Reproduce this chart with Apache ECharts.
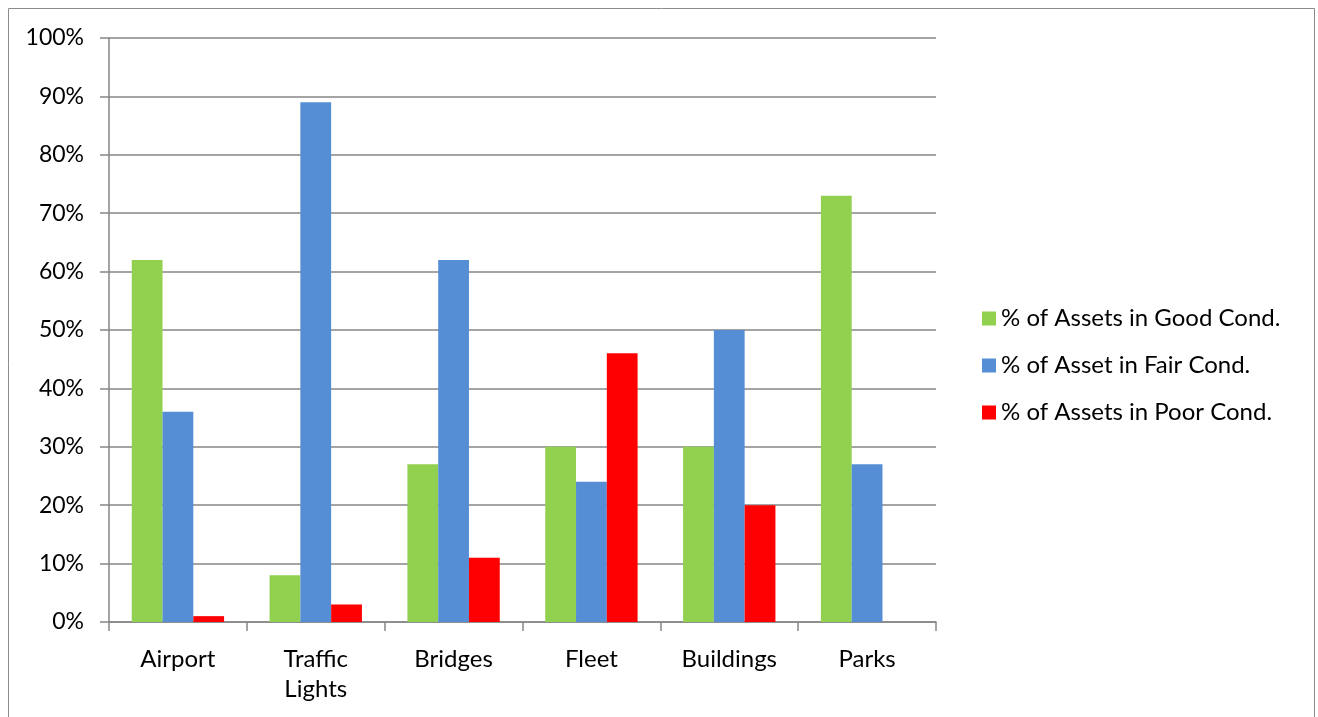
<!DOCTYPE html>
<html>
<head>
<meta charset="utf-8">
<script src="https://cdn.jsdelivr.net/npm/echarts@6/dist/echarts.min.js"></script>
<style>
html,body{margin:0;padding:0;background:#fff;}
#chart{width:1318px;height:717px;}
</style>
</head>
<body>
<div id="chart"></div>
<script>
var categories = ['Airport', 'Traffic\nLights', 'Bridges', 'Fleet', 'Buildings', 'Parks'];
var seriesNames = ['% of Assets in Good Cond.', '% of Asset in Fair Cond.', '% of Assets in Poor Cond.'];
var goodValues = [62, 8, 27, 30, 30, 73];
var fairValues = [36, 89, 62, 24, 50, 27];
var poorValues = [1, 3, 11, 46, 20, 0];
var yTicks = [0, 100, 10];

var FONT = 'Lato';
var chart = echarts.init(document.getElementById('chart'), null, {renderer: 'canvas'});
var axisGray = '#868686';
chart.setOption({
  animation: false,
  backgroundColor: '#ffffff',
  textStyle: {fontFamily: FONT},
  graphic: [{
    type: 'rect',
    shape: {x: 8.5, y: 8.5, width: 1306, height: 730},
    style: {fill: 'none', stroke: '#8c8c8c', lineWidth: 1},
    silent: true
  }],
  grid: {left: 109, top: 38, right: 382, bottom: 95},
  legend: {
    orient: 'vertical',
    left: 977,
    top: 301,
    itemWidth: 14,
    itemHeight: 14,
    itemGap: 22,
    icon: 'rect',
    textStyle: {fontFamily: FONT, fontSize: 24, color: '#000', lineHeight: 25},
    data: seriesNames
  },
  xAxis: {
    type: 'category',
    data: categories,
    axisLine: {lineStyle: {color: axisGray, width: 1.5}},
    axisTick: {show: true, length: 9, lineStyle: {color: axisGray, width: 1.5}},
    axisLabel: {color: '#000', fontSize: 24, fontFamily: FONT, margin: 22, lineHeight: 30, interval: 0}
  },
  yAxis: {
    type: 'value',
    min: yTicks[0],
    max: yTicks[1],
    interval: yTicks[2],
    axisLine: {show: true, lineStyle: {color: axisGray, width: 1.5}},
    axisTick: {show: true, length: 9, lineStyle: {color: axisGray, width: 1.5}},
    splitLine: {lineStyle: {color: axisGray, width: 1.5}},
    axisLabel: {color: '#000', fontSize: 23, fontFamily: FONT, margin: 25, formatter: '{value}%'}
  },
  series: [
    {name: seriesNames[0], type: 'bar', data: goodValues, itemStyle: {color: '#92D050'}, barGap: '0%', barCategoryGap: '33%'},
    {name: seriesNames[1], type: 'bar', data: fairValues, itemStyle: {color: '#558ED5'}, barGap: '0%', barCategoryGap: '33%'},
    {name: seriesNames[2], type: 'bar', data: poorValues, itemStyle: {color: '#FF0000'}, barGap: '0%', barCategoryGap: '33%'}
  ]
});
</script>
</body>
</html>
